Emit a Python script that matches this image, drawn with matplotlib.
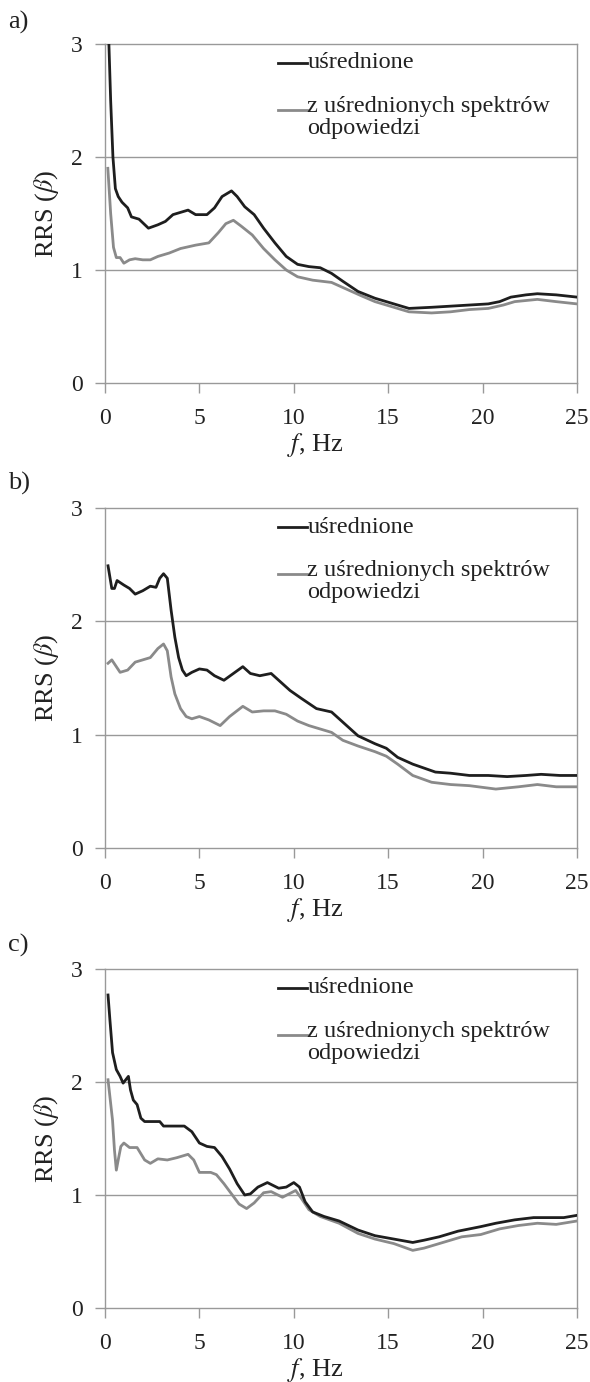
import matplotlib
matplotlib.use("Agg")
import matplotlib.pyplot as plt

plt.rcParams['font.family'] = ['Liberation Serif', 'DejaVu Serif']
plt.rcParams['mathtext.fontset'] = 'stix'

# panel a)
fa_k = [0.15, 0.3, 0.42, 0.55, 0.7, 0.9, 1.2, 1.4, 1.8, 2.3, 2.8, 3.2, 3.6, 4.0, 4.4,
        4.8, 5.4, 5.8, 6.2, 6.7, 7.0, 7.4, 7.9, 8.4, 9.0, 9.6, 10.2, 10.8, 11.4, 12.0,
        12.6, 13.4, 14.3, 15.1, 16.1, 17.3, 18.3, 19.3, 20.3, 20.9, 21.5, 22.3, 22.9, 23.9, 25.0]
va_k = [3.3, 2.5, 2.0, 1.72, 1.65, 1.6, 1.55, 1.47, 1.45, 1.37, 1.40, 1.43, 1.49, 1.51, 1.53,
        1.49, 1.49, 1.55, 1.65, 1.70, 1.65, 1.56, 1.49, 1.37, 1.24, 1.12, 1.05, 1.03, 1.02, 0.97,
        0.90, 0.81, 0.75, 0.71, 0.66, 0.67, 0.68, 0.69, 0.70, 0.72, 0.76, 0.78, 0.79, 0.78, 0.76]
fa_g = [0.15, 0.3, 0.45, 0.6, 0.8, 1.0, 1.3, 1.6, 2.0, 2.4, 2.8, 3.4, 4.0, 4.8, 5.5,
        6.0, 6.4, 6.8, 7.2, 7.8, 8.4, 9.0, 9.6, 10.2, 11.0, 12.0, 12.8, 13.6, 14.3, 15.3,
        16.1, 17.3, 18.3, 19.3, 20.3, 21.1, 21.7, 22.9, 23.9, 25.0]
va_g = [1.9, 1.5, 1.2, 1.11, 1.11, 1.06, 1.09, 1.10, 1.09, 1.09, 1.12, 1.15, 1.19, 1.22, 1.24,
        1.33, 1.41, 1.44, 1.39, 1.31, 1.19, 1.09, 1.00, 0.94, 0.91, 0.89, 0.83, 0.77, 0.72, 0.67,
        0.63, 0.62, 0.63, 0.65, 0.66, 0.69, 0.72, 0.74, 0.72, 0.70]

# panel b)
fb_k = [0.16, 0.36, 0.5, 0.64, 1.0, 1.3, 1.6, 2.0, 2.4, 2.7, 2.9, 3.1, 3.3, 3.5, 3.7,
        3.9, 4.1, 4.3, 4.6, 5.0, 5.4, 5.8, 6.3, 6.8, 7.3, 7.7, 8.2, 8.8, 9.2, 9.8,
        10.4, 11.2, 12.0, 12.4, 13.4, 14.3, 14.9, 15.5, 16.3, 17.5, 18.3, 19.3, 20.3, 21.3, 22.3,
        23.1, 24.1, 25.0]
vb_k = [2.49, 2.29, 2.29, 2.36, 2.32, 2.29, 2.24, 2.27, 2.31, 2.30, 2.38, 2.42, 2.38, 2.10, 1.86,
        1.68, 1.57, 1.52, 1.55, 1.58, 1.57, 1.52, 1.48, 1.54, 1.60, 1.54, 1.52, 1.54, 1.48, 1.39,
        1.32, 1.23, 1.20, 1.14, 0.99, 0.92, 0.88, 0.80, 0.74, 0.67, 0.66, 0.64, 0.64, 0.63, 0.64,
        0.65, 0.64, 0.64]
fb_g = [0.16, 0.36, 0.6, 0.8, 1.2, 1.6, 2.0, 2.4, 2.8, 3.1, 3.3, 3.5, 3.7, 4.0, 4.3,
        4.6, 5.0, 5.5, 6.1, 6.6, 7.3, 7.8, 8.4, 9.0, 9.6, 10.2, 10.8, 11.6, 12.0, 12.6,
        13.4, 14.3, 14.9, 15.5, 16.3, 17.3, 18.3, 19.3, 20.7, 21.9, 22.9, 23.9, 25.0]
vb_g = [1.63, 1.66, 1.60, 1.55, 1.57, 1.64, 1.66, 1.68, 1.76, 1.80, 1.74, 1.51, 1.36, 1.23, 1.16,
        1.14, 1.16, 1.13, 1.08, 1.16, 1.25, 1.20, 1.21, 1.21, 1.18, 1.12, 1.08, 1.04, 1.02, 0.95,
        0.90, 0.85, 0.81, 0.74, 0.64, 0.58, 0.56, 0.55, 0.52, 0.54, 0.56, 0.54, 0.54]

# panel c)
fc_k = [0.16, 0.26, 0.4, 0.6, 0.8, 0.96, 1.1, 1.24, 1.35, 1.5, 1.7, 1.9, 2.1, 2.6, 2.9,
        3.1, 3.6, 4.2, 4.6, 5.0, 5.4, 5.8, 6.2, 6.6, 7.0, 7.4, 7.7, 8.1, 8.6, 9.2,
        9.6, 10.0, 10.3, 10.6, 11.0, 11.6, 12.4, 13.4, 14.3, 15.3, 16.3, 16.9, 17.7, 18.7, 19.9,
        20.7, 21.7, 22.7, 23.7, 24.3, 25.0]
vc_k = [2.77, 2.55, 2.26, 2.11, 2.05, 1.99, 2.02, 2.05, 1.93, 1.84, 1.80, 1.68, 1.65, 1.65, 1.65,
        1.61, 1.61, 1.61, 1.56, 1.46, 1.43, 1.42, 1.34, 1.23, 1.10, 1.00, 1.01, 1.07, 1.11, 1.06,
        1.07, 1.11, 1.07, 0.94, 0.85, 0.81, 0.77, 0.69, 0.64, 0.61, 0.58, 0.60, 0.63, 0.68, 0.72,
        0.75, 0.78, 0.80, 0.80, 0.80, 0.82]
fc_g = [0.16, 0.4, 0.5, 0.6, 0.7, 0.84, 1.0, 1.3, 1.7, 2.1, 2.4, 2.8, 3.3, 3.8, 4.4,
        4.7, 5.0, 5.6, 5.9, 6.3, 6.7, 7.1, 7.5, 7.9, 8.4, 8.8, 9.4, 10.1, 10.4, 10.8,
        11.4, 12.4, 13.4, 14.3, 15.3, 16.3, 16.9, 17.9, 18.9, 19.9, 20.9, 21.9, 22.9, 23.9, 25.0]
vc_g = [2.02, 1.66, 1.40, 1.22, 1.31, 1.43, 1.46, 1.42, 1.42, 1.31, 1.28, 1.32, 1.31, 1.33, 1.36,
        1.31, 1.20, 1.20, 1.18, 1.10, 1.01, 0.92, 0.88, 0.93, 1.02, 1.03, 0.98, 1.04, 0.97, 0.87,
        0.81, 0.75, 0.66, 0.61, 0.57, 0.51, 0.53, 0.58, 0.63, 0.65, 0.70, 0.73, 0.75, 0.74, 0.77]

panel_labels = ['a)', 'b)', 'c)']
series_names = ['uśrednione', 'z uśrednionych spektrów\nodpowiedzi']
x_ticks = [0, 5, 10, 15, 20, 25]
y_ticks = [0, 1, 2, 3]

panels = [(fa_k, va_k, fa_g, va_g), (fb_k, vb_k, fb_g, vb_g), (fc_k, vc_k, fc_g, vc_g)]

W, H = 590, 1382
fig = plt.figure(figsize=(W / 100, H / 100), dpi=100)

# axes boxes in pixels: (top, bottom)
boxes = [(44, 383), (508, 848), (969, 1308)]
label_y = [22, 483, 945]
left_px, right_px = 105, 577

black = '#1e1e1e'
gray = '#8a8a8a'
frame = '#999999'
txt = '#222222'

for i, (fk, vk, fg, vg) in enumerate(panels):
    top, bot = boxes[i]
    ax = fig.add_axes([left_px / W, 1 - bot / H, (right_px - left_px) / W, (bot - top) / H])
    ax.plot(fk, vk, color=black, lw=2.0, solid_joinstyle='round', zorder=3)
    ax.plot(fg, vg, color=gray, lw=2.0, solid_joinstyle='round', zorder=2)
    ax.set_xlim(0, 25)
    ax.set_ylim(0, 3)
    ax.set_xticks(x_ticks)
    ax.set_yticks(y_ticks)
    ax.set_xticklabels([str(t) for t in x_ticks])
    ax.set_yticklabels([str(t) for t in y_ticks])
    ax.tick_params(direction='out', length=7, width=1, color=frame,
                   labelsize=17, colors=txt)
    ax.tick_params(axis='x', pad=11)
    ax.tick_params(axis='y', pad=9)
    for s in ax.spines.values():
        s.set_color(frame)
        s.set_linewidth(1.0)
    for yv in [1, 2]:
        ax.axhline(yv, color=frame, lw=1.0, zorder=1)
    ax.set_xlabel(r'$f$, Hz', fontsize=19, color=txt)
    ax.xaxis.set_label_coords(0.445, -0.142)
    ax.set_ylabel(r'RRS ($\beta$)', fontsize=19, color=txt)
    ax.yaxis.set_label_coords(-0.093, 0.5)

    # legend drawn by hand, Excel style
    ax.plot([0.366, 0.427], [0.944, 0.944], transform=ax.transAxes, color=black, lw=2.0)
    ax.text(0.429, 0.944, series_names[0], transform=ax.transAxes, fontsize=17.5,
            va='center', ha='left', color=txt)
    ax.plot([0.366, 0.427], [0.805, 0.805], transform=ax.transAxes, color=gray, lw=2.0)
    ax.text(0.429, 0.848, series_names[1], transform=ax.transAxes, fontsize=17.5,
            va='top', ha='left', color=txt, linespacing=1.1)

    fig.text(8 / W, 1 - label_y[i] / H, panel_labels[i], fontsize=19,
             va='center', ha='left', color=txt)

fig.savefig('out.png', dpi=100)
